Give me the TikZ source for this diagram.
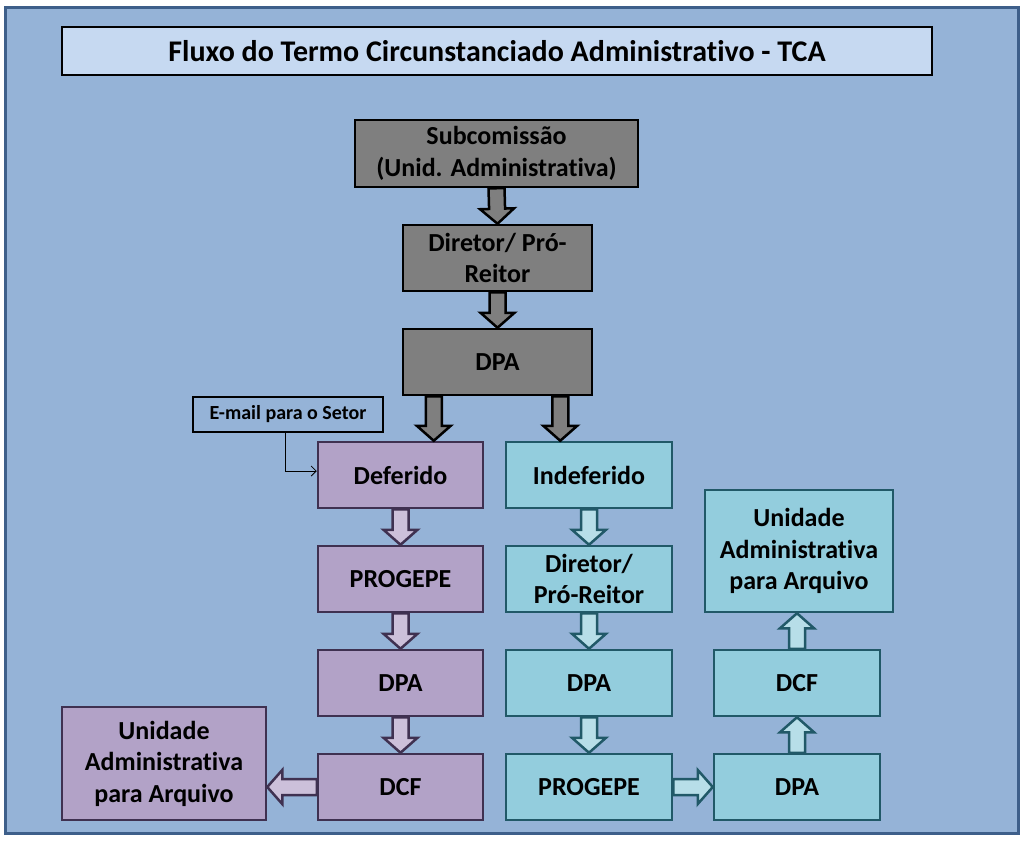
\documentclass[tikz,border=0pt]{standalone}
\usepackage{fontspec}
\setmainfont{Carlito}[Ligatures=NoCommon]
\usetikzlibrary{calc,arrows.meta}
\definecolor{bgblue}{HTML}{95B3D7}
\definecolor{frameblue}{HTML}{3E5F8A}
\definecolor{titlefill}{HTML}{C6D9F1}
\definecolor{boxgray}{HTML}{7F7F7F}
\definecolor{pufill}{HTML}{B2A2C7}
\definecolor{puarrow}{HTML}{CCC0DA}
\definecolor{pudark}{HTML}{3F3151}
\definecolor{cyfill}{HTML}{93CDDD}
\definecolor{cyarrow}{HTML}{B7DEE8}
\definecolor{cydark}{HTML}{215968}
\tikzset{
  box/.style = {align=center, inner sep=0pt, text centered,
    font=\bfseries\fontsize{26}{31.5}\selectfont, line width=2.5pt},
  gr/.style = {box, rectangle, draw=black, fill=boxgray},% gray box
  pu/.style = {box, rectangle, draw=pudark, fill=pufill},% purple box
  cy/.style = {box, rectangle, draw=cydark, fill=cyfill},% cyan box
  blk/.style = {line width=2.5pt, line join=miter, to path={
    let \p1=(\tikztostart), \p2=(\tikztotarget),
        \n1={atan2(\y2-\y1,\x2-\x1)}, \n2={veclen(\x2-\x1,\y2-\y1)} in
    {[shift={(\p1)}, rotate=\n1]
      (0pt,-8pt) -- (\n2-15pt,-8pt) -- (\n2-15pt,-17pt) -- (\n2+0pt,0pt)
      -- (\n2-15pt,17pt) -- (\n2-15pt,8pt) -- (0pt,8pt) -- cycle}}},% block arrow
  garr/.style = {blk, draw=black, fill=boxgray},
  parr/.style = {blk, draw=pudark, fill=puarrow},
  carr/.style = {blk, draw=cydark, fill=cyarrow}
}
\begin{document}
\begin{tikzpicture}[x=1pt,y=-1pt]
\useasboundingbox (0,0) rectangle (1024,841);
\draw[line width=3pt, draw=frameblue, fill=bgblue] (5,7) rectangle (1018,833);
\node [box, draw=black, fill=titlefill, line width=2pt, minimum width=870, minimum height=48,
  font=\bfseries\fontsize{30}{36}\selectfont] (title) at (497,51)
  {Fluxo do Termo Circunstanciado Administrativo - TCA};
% top flow
\node [gr, minimum width=283, minimum height=67] (sub) at (496.5,153.5) {Subcomissão\\(Unid. Administrativa)};
\node [gr, minimum width=189, minimum height=66] (dir) at (497.5,258) {Diretor/ Pró-\\Reitor};
\node [gr, minimum width=189, minimum height=66] (dpa) at (497.5,362) {DPA};
\node [box, draw=black, fill=bgblue, minimum width=190, minimum height=35,
  font=\bfseries\fontsize{20}{24}\selectfont] (mail) at (288,414.5) {E-mail para o Setor};
% deferido
\node [pu, minimum width=165, minimum height=66] (def) at (400.5,475) {Deferido};
\node [pu, minimum width=165, minimum height=66] (progA) at (400.5,579) {PROGEPE};
\node [pu, minimum width=165, minimum height=66] (dpaA) at (400.5,683) {DPA};
\node [pu, minimum width=165, minimum height=66] (dcfA) at (400.5,787) {DCF};
\node [pu, minimum width=204, minimum height=113] (uniA) at (164,763.5) {Unidade\\Administrativa\\para Arquivo};
% indeferido
\node [cy, minimum width=166, minimum height=66] (ind) at (589,475) {Indeferido};
\node [cy, minimum width=166, minimum height=66] (dirB) at (589,579) {Diretor/\\Pró-Reitor};
\node [cy, minimum width=166, minimum height=66] (dpaB) at (589,683) {DPA};
\node [cy, minimum width=166, minimum height=66] (progB) at (589,787) {PROGEPE};
\node [cy, minimum width=166, minimum height=66] (dpaC) at (797,787) {DPA};
\node [cy, minimum width=166, minimum height=66] (dcfC) at (797,683) {DCF};
\node [cy, minimum width=188, minimum height=122] (uniC) at (799,551) {Unidade\\Administrativa\\para Arquivo};
% arrows
\draw [garr] (sub.south) to (dir.north);
\draw [garr] (dir.south) to (dpa.north);
\draw [garr] ([xshift=32pt]dpa.south west) to ([xshift=32pt]dpa.south west |- def.north);
\draw [garr] ([xshift=-33pt]dpa.south east) to ([xshift=-33pt]dpa.south east |- ind.north);
\draw [thick, -{Straight Barb[length=5pt,width=10pt]}] ([xshift=-3pt]mail.south) |- ([yshift=4pt]def.west);
\draw [parr] (def.south) to (progA.north);
\draw [parr] (progA.south) to (dpaA.north);
\draw [parr] (dpaA.south) to (dcfA.north);
\draw [parr] (dcfA.west) to (dcfA.west -| uniA.east);
\draw [carr] (ind.south) to (dirB.north);
\draw [carr] (dirB.south) to (dpaB.north);
\draw [carr] (dpaB.south) to (progB.north);
\draw [carr] (progB.east) to (dpaC.west);
\draw [carr] (dpaC.north) to (dcfC.south);
\draw [carr] (dcfC.north) to (dcfC.north |- uniC.south);
\end{tikzpicture}
\end{document}
